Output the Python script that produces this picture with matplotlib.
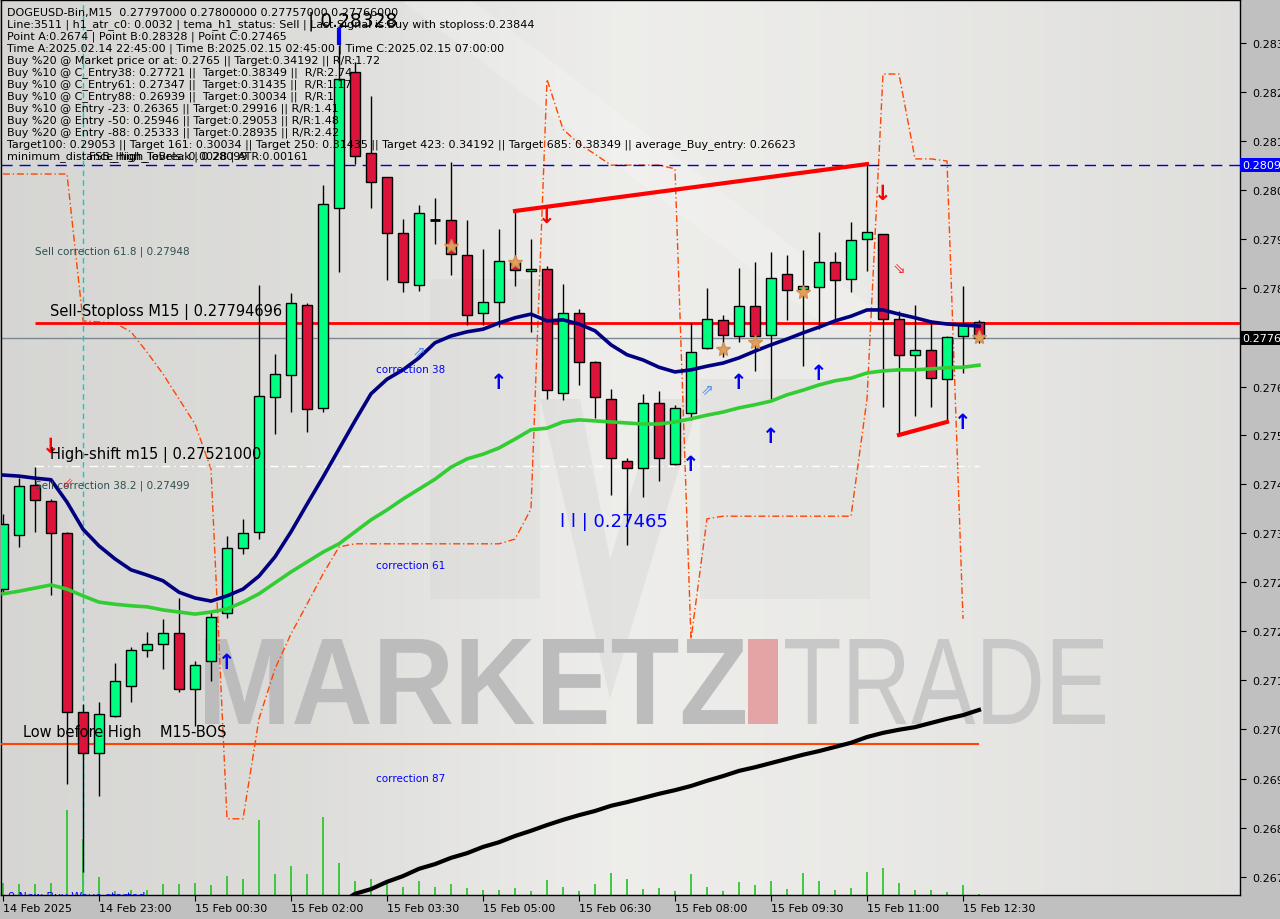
import matplotlib
matplotlib.use("Agg")
import matplotlib.pyplot as plt
import numpy as np
from matplotlib.patches import Rectangle, PathPatch
from matplotlib.textpath import TextPath
from matplotlib.font_manager import FontProperties
from matplotlib.transforms import Affine2D

# DOGEUSD-Bin M15, first bar 14 Feb 21:30
opens = [0.27284, 0.27388, 0.27484, 0.27453, 0.27392, 0.27048, 0.26969, 0.27040, 0.27098, 0.27167,
         0.27179, 0.27200, 0.27092, 0.27146, 0.27238, 0.27363, 0.27394, 0.27653, 0.27695, 0.27830,
         0.27632, 0.28016, 0.28277, 0.28121, 0.28075, 0.27968, 0.27868, 0.27993, 0.27993, 0.27926,
         0.27814, 0.27835, 0.27914, 0.27895, 0.27899, 0.27661, 0.27814, 0.27720, 0.27649, 0.27530,
         0.27517, 0.27641, 0.27524, 0.27622, 0.27747, 0.27801, 0.27770, 0.27828, 0.27772, 0.27889,
         0.27860, 0.27864, 0.27912, 0.27879, 0.27956, 0.27966, 0.27803, 0.27734, 0.27743, 0.27687,
         0.27770, 0.27797]
highs = [0.27428, 0.27497, 0.27518, 0.27457, 0.27394, 0.27063, 0.27067, 0.27142, 0.27173, 0.27202,
         0.27227, 0.27267, 0.27146, 0.27240, 0.27386, 0.27419, 0.27868, 0.27735, 0.27853, 0.27833,
         0.28060, 0.28328, 0.28296, 0.28231, 0.28075, 0.27995, 0.28022, 0.28035, 0.28104, 0.27993,
         0.27937, 0.27975, 0.28010, 0.27956, 0.27904, 0.27870, 0.27822, 0.27722, 0.27668, 0.27536,
         0.27659, 0.27664, 0.27638, 0.27795, 0.27862, 0.27810, 0.27901, 0.27912, 0.27931, 0.27926,
         0.27935, 0.27970, 0.27931, 0.27989, 0.28100, 0.27966, 0.27818, 0.27830, 0.27797, 0.27770,
         0.27866, 0.27800]
lows = [0.27275, 0.27365, 0.27394, 0.27273, 0.26910, 0.26741, 0.26887, 0.27038, 0.27067, 0.27154,
        0.27131, 0.27086, 0.27021, 0.27108, 0.27229, 0.27351, 0.27380, 0.27582, 0.27624, 0.27586,
        0.27624, 0.27893, 0.28100, 0.28016, 0.27878, 0.27854, 0.27856, 0.27947, 0.27887, 0.27791,
        0.27791, 0.27787, 0.27866, 0.27778, 0.27649, 0.27647, 0.27676, 0.27613, 0.27465, 0.27369,
        0.27461, 0.27492, 0.27522, 0.27609, 0.27745, 0.27730, 0.27758, 0.27703, 0.27649, 0.27801,
        0.27712, 0.27783, 0.27803, 0.27854, 0.27895, 0.27634, 0.27580, 0.27616, 0.27634, 0.27605,
        0.27699, 0.27757]
closes = [0.27409, 0.27482, 0.27455, 0.27392, 0.27048, 0.26969, 0.27044, 0.27108, 0.27167, 0.27179,
          0.27200, 0.27092, 0.27138, 0.27230, 0.27363, 0.27392, 0.27655, 0.27697, 0.27833, 0.27630,
          0.28023, 0.28263, 0.28116, 0.28066, 0.27968, 0.27874, 0.28006, 0.27993, 0.27927, 0.27810,
          0.27835, 0.27914, 0.27897, 0.27899, 0.27666, 0.27814, 0.27720, 0.27653, 0.27536, 0.27517,
          0.27641, 0.27536, 0.27632, 0.27739, 0.27803, 0.27772, 0.27828, 0.27770, 0.27881, 0.27858,
          0.27866, 0.27912, 0.27878, 0.27954, 0.27970, 0.27803, 0.27734, 0.27743, 0.27689, 0.27768,
          0.27791, 0.27766]
volumes = [120, 110, 110, 120, 850, 560, 180, 40, 50, 50,
           110, 110, 120, 100, 190, 160, 750, 210, 290, 210,
           780, 320, 140, 160, 150, 80, 140, 80, 110, 70,
           50, 50, 70, 40, 150, 80, 40, 110, 220, 160,
           60, 70, 40, 210, 80, 40, 130, 100, 140, 60,
           220, 140, 50, 70, 230, 270, 120, 50, 50, 30,
           100, 10]

ma_navy = [0.27503, 0.27501, 0.27497, 0.27494, 0.27451, 0.27399, 0.27367, 0.27342, 0.27321, 0.27311,
           0.27300, 0.27278, 0.27267, 0.27261, 0.27271, 0.27284, 0.27309, 0.27346, 0.27394, 0.27447,
           0.27499, 0.27553, 0.27607, 0.27659, 0.27687, 0.27705, 0.27728, 0.27757, 0.27770, 0.27778,
           0.27783, 0.27795, 0.27805, 0.27812, 0.27799, 0.27801, 0.27793, 0.27780, 0.27753, 0.27734,
           0.27724, 0.27710, 0.27701, 0.27705, 0.27712, 0.27718, 0.27728, 0.27741, 0.27753, 0.27764,
           0.27776, 0.27787, 0.27799, 0.27808, 0.27820, 0.27820, 0.27812, 0.27805, 0.27797, 0.27793,
           0.27791, 0.27789]
ma_green = [0.27275, 0.27280, 0.27286, 0.27292, 0.27284, 0.27271, 0.27259, 0.27255, 0.27252, 0.27250,
            0.27244, 0.27240, 0.27236, 0.27240, 0.27246, 0.27259, 0.27275, 0.27296, 0.27317, 0.27336,
            0.27355, 0.27371, 0.27394, 0.27417, 0.27436, 0.27457, 0.27476, 0.27495, 0.27518, 0.27534,
            0.27543, 0.27555, 0.27572, 0.27590, 0.27593, 0.27605, 0.27609, 0.27607, 0.27605, 0.27603,
            0.27601, 0.27601, 0.27605, 0.27611, 0.27618, 0.27624, 0.27632, 0.27638, 0.27645, 0.27657,
            0.27666, 0.27676, 0.27684, 0.27689, 0.27699, 0.27703, 0.27705, 0.27705, 0.27707, 0.27709,
            0.27710, 0.27714]
# long average starts on bar 21
ma_black = [0.26679, 0.26699, 0.26708, 0.26722, 0.26733, 0.26747, 0.26756, 0.26768, 0.26777, 0.26789,
            0.26798, 0.26810, 0.26820, 0.26831, 0.26841, 0.26850, 0.26858, 0.26868, 0.26875, 0.26883,
            0.26891, 0.26898, 0.26906, 0.26916, 0.26925, 0.26935, 0.26942, 0.26950, 0.26958, 0.26966,
            0.26973, 0.26981, 0.26989, 0.27000, 0.27008, 0.27014, 0.27019, 0.27027, 0.27035, 0.27042,
            0.27052]
# orange dash-dot channel, bars 0..60
channel = [0.28081, 0.28081, 0.28081, 0.28081, 0.28081, 0.27799, 0.27797, 0.27795, 0.27778, 0.27739,
           0.27697, 0.27649, 0.27601, 0.27515, 0.26843, 0.26843, 0.27035, 0.27131, 0.27198, 0.27255,
           0.27313, 0.27365, 0.27371, 0.27371, 0.27371, 0.27371, 0.27371, 0.27371, 0.27371, 0.27371,
           0.27371, 0.27371, 0.27380, 0.27438, 0.28263, 0.28167, 0.28139, 0.28119, 0.28098, 0.28098,
           0.28098, 0.28098, 0.28091, 0.27188, 0.27419, 0.27424, 0.27424, 0.27424, 0.27424, 0.27424,
           0.27424, 0.27424, 0.27424, 0.27424, 0.27649, 0.28273, 0.28273, 0.28110, 0.28110, 0.28106,
           0.27227]

time_labels = ["14 Feb 2025", "14 Feb 23:00", "15 Feb 00:30", "15 Feb 02:00", "15 Feb 03:30",
               "15 Feb 05:00", "15 Feb 06:30", "15 Feb 08:00", "15 Feb 09:30", "15 Feb 11:00",
               "15 Feb 12:30"]
price_ticks = [0.28333, 0.28238, 0.28144, 0.28050, 0.27956, 0.27862, 0.27768, 0.27673, 0.27579,
               0.27485, 0.27391, 0.27297, 0.27203, 0.27109, 0.27015, 0.26920, 0.26826, 0.26732]

last_price = 0.27766
sell_stop = 0.27794696
fsb_high = 0.28099
high_shift = 0.27521
low_before_high = 0.26987
point_b = 0.28328
point_c = 0.27465

buy_arrows = [(14, 0.27144), (31, 0.27682), (43, 0.27524), (46, 0.27682), (48, 0.27578),
              (51, 0.27699), (60, 0.27605)]
sell_arrows = [(3, 0.27559), (34, 0.28000), (55, 0.28045)]
stars = [(28, 0.27943), (32, 0.27912), (45, 0.27745), (47, 0.27758), (50, 0.27854), (61, 0.27768)]

info_lines = [
    "DOGEUSD-Bin,M15  0.27797000 0.27800000 0.27757000 0.27766000",
    "Line:3511 | h1_atr_c0: 0.0032 | tema_h1_status: Sell | Last Signal is:Buy with stoploss:0.23844",
    "Point A:0.2674 | Point B:0.28328 | Point C:0.27465",
    "Time A:2025.02.14 22:45:00 | Time B:2025.02.15 02:45:00 | Time C:2025.02.15 07:00:00",
    "Buy %20 @ Market price or at: 0.2765 || Target:0.34192 || R/R:1.72",
    "Buy %10 @ C_Entry38: 0.27721 ||  Target:0.38349 ||  R/R:2.74",
    "Buy %10 @ C_Entry61: 0.27347 ||  Target:0.31435 ||  R/R:1.17",
    "Buy %10 @ C_Entry88: 0.26939 ||  Target:0.30034 ||  R/R:1",
    "Buy %10 @ Entry -23: 0.26365 || Target:0.29916 || R/R:1.41",
    "Buy %20 @ Entry -50: 0.25946 || Target:0.29053 || R/R:1.48",
    "Buy %20 @ Entry -88: 0.25333 || Target:0.28935 || R/R:2.42",
    "Target100: 0.29053 || Target 161: 0.30034 || Target 250: 0.31435 || Target 423: 0.34192 || Target 685: 0.38349 || average_Buy_entry: 0.26623",
    "minimum_distance_high_levels: 0.0028 | ATR:0.00161",
]

plt.rcParams['font.family'] = ['DejaVu Sans']

W, H = 1280, 920
fig = plt.figure(figsize=(W / 100, H / 100), dpi=100)
fig.patch.set_facecolor('#c0c0c0')
ax = fig.add_axes([1 / W, 24 / H, 1239 / W, 895 / H])

n = len(opens)
xs = np.arange(n)
x0, x1 = -0.125, 77.3125
y0, y1 = 0.266967, 0.284151

# pixel helper (image coordinates, y down)
PIX = Affine2D().scale(1 / W, -1 / H).translate(0, 1) + fig.transFigure

# background gradient
gx = np.linspace(0, 1240, 300)
g = np.interp(gx, [0, 300, 620, 850, 1240], [214, 221, 238, 234, 223])
bg = np.stack([g, g - 0.5, g - 3], axis=-1)[None, :, :] / 255.0
ax.imshow(bg, extent=[x0, x1, y0, y1], aspect='auto', zorder=0, interpolation='bilinear')

# faint logo shapes
def px_poly(pts, **kw):
    p = plt.Polygon(pts, closed=True, transform=PIX, **kw)
    ax.add_patch(p)
    p.set_clip_path(ax.patch)

px_poly([(430, 280), (540, 280), (540, 600), (430, 600)], facecolor='#d2d2d2', alpha=0.3, zorder=0.5, lw=0)
px_poly([(700, 380), (870, 380), (870, 600), (700, 600)], facecolor='#d2d2d2', alpha=0.3, zorder=0.5, lw=0)
px_poly([(540, 400), (610, 700), (700, 400), (660, 400), (610, 560), (580, 400)], facecolor='#d2d2d2', alpha=0.4, zorder=0.5, lw=0)
px_poly([(400, 0), (470, 0), (900, 330), (830, 330)], facecolor='#ffffff', alpha=0.2, zorder=0.5, lw=0)

# watermark text
def word(s, box, color, weight):
    tp = TextPath((0, 0), s, size=1, prop=FontProperties(family='Liberation Sans', weight=weight))
    bb = tp.get_extents()
    l, t, r, b = box
    tr = Affine2D().translate(-bb.x0, -bb.y0).scale((r - l) / bb.width, -(b - t) / bb.height).translate(l, b) + PIX
    patch = PathPatch(tp, facecolor=color, edgecolor='none', transform=tr, zorder=1)
    ax.add_patch(patch)

word("MARKETZ", (205, 640, 745, 725), '#bcbcbc', 'bold')
ax.add_patch(Rectangle((748, 640), 30, 85, transform=PIX, facecolor='#e2a4a4', edgecolor='none', zorder=1))
word("TRADE", (785, 640, 1105, 725), '#c8c8c8', 'normal')

# volumes
vol_scale = 0.00000192
ax.vlines(xs, y0, [y0 + v * vol_scale for v in volumes], color='#22c322', lw=1.2, zorder=2)

# channel
ax.plot(xs[:len(channel)], channel, color='#ff4500', lw=1, ls=(0, (5, 2, 1, 2)), zorder=2)

# level lines
ax.axhline(fsb_high, color='#0000cd', lw=1, ls=(0, (8, 5)), zorder=2)
ax.axhline(last_price, color='#7a8896', lw=1, zorder=2)
ax.hlines(sell_stop, 2, x1, color='#ff0000', lw=2, zorder=3)
ax.hlines(high_shift, 2, 61, color='#ffffff', lw=1, ls=(0, (6, 3, 1, 3)), zorder=2)
ax.hlines(low_before_high, x0, 61, color='#ff4500', lw=1.5, zorder=3)
ax.axvline(5, color='#00ced1', lw=1, ls=(0, (4, 3)), zorder=2)

# candles
for i in range(n):
    o, h, l, c = opens[i], highs[i], lows[i], closes[i]
    ax.vlines(i, l, h, color='black', lw=1, zorder=4)
    if abs(c - o) < 0.000005:
        ax.hlines(o, i - 0.32, i + 0.32, color='black', lw=2, zorder=5)
    else:
        col = '#00ff80' if c > o else '#dc143c'
        ax.add_patch(Rectangle((i - 0.32, min(o, c)), 0.64, abs(c - o), facecolor=col,
                               edgecolor='black', lw=1, zorder=5))

# moving averages
ax.plot(xs, ma_green, color='#32cd32', lw=2.6, zorder=6)
ax.plot(xs, ma_navy, color='#000080', lw=2.6, zorder=6)
ax.plot(xs[21:], ma_black, color='black', lw=3, zorder=6)

# trend lines
ax.plot([32, 54], [highs[32], highs[54]], color='#ff0000', lw=3, zorder=6)
ax.plot([56, 59], [lows[56], lows[59]], color='#ff0000', lw=3, zorder=6)
ax.vlines(21, point_b, point_b + 0.00034, color='#0000ff', lw=3, zorder=6)

# signals
for i, p in buy_arrows:
    ax.text(i, p, "↑", color='#0000ff', fontsize=15, fontweight='bold', ha='center', va='center', zorder=7)
for i, p in sell_arrows:
    ax.text(i, p, "↓", color='#ff0000', fontsize=15, fontweight='bold', ha='center', va='center', zorder=7)
for i, p in stars:
    ax.plot(i, p, marker='*', ms=10, color='#e0a060', mec='#d09050', zorder=7)
ax.text(26, 0.27741, "⇗", color='#4f8fef', fontsize=11, ha='center', va='center', zorder=7)
ax.text(44, 0.27668, "⇗", color='#4f8fef', fontsize=11, ha='center', va='center', zorder=7)
ax.text(56, 0.27902, "⇘", color='#ff3030', fontsize=11, ha='center', va='center', zorder=7)
ax.text(4, 0.27490, "⇙", color='#ff3030', fontsize=10, ha='center', va='center', zorder=7)

# chart labels
def ptext(x, y, s, **kw):
    kw.setdefault('va', 'center')
    kw.setdefault('zorder', 8)
    ax.text(x, y, s, transform=PIX, **kw)

for k, line in enumerate(info_lines):
    ptext(7, 13 + 12 * k, line, fontsize=8, color='black')
ptext(89, 157, "FSB_High_ToBreak | 0.28099", fontsize=8, color='black')
ptext(308, 21, "| 0.28328", fontsize=13.5, color='black')
ptext(35, 252, "Sell correction 61.8 | 0.27948", fontsize=7.5, color='#2f4f4f')
ptext(50, 312, "Sell-Stoploss M15 | 0.27794696", fontsize=10.5, color='black')
ptext(376, 370, "correction 38", fontsize=7.5, color='#0000ff')
ptext(50, 455, "High-shift m15 | 0.27521000", fontsize=10.5, color='black')
ptext(35, 486, "Sell correction 38.2 | 0.27499", fontsize=7.5, color='#2f4f4f')
ptext(560, 522, "l l | 0.27465", fontsize=13, color='#0000ff')
ptext(376, 566, "correction 61", fontsize=7.5, color='#0000ff')
ptext(23, 733, "Low before High    M15-BOS", fontsize=10.5, color='black')
ptext(376, 779, "correction 87", fontsize=7.5, color='#0000ff')
ax.text(8, 892, "0 New Buy Wave started", transform=PIX, fontsize=8, color='#0000ff',
        va='top', clip_on=True, zorder=8)

# axes
ax.set_xlim(x0, x1)
ax.set_ylim(y0, y1)
ax.set_xticks(np.arange(0, 61, 6))
ax.set_xticklabels(time_labels, fontsize=8)
for lab in ax.get_xticklabels():
    lab.set_ha('left')
ax.yaxis.tick_right()
ax.set_yticks(price_ticks)
# the tick under the last-price tag carries no label of its own
ax.set_yticklabels(["" if abs(v - last_price) < 0.0002 else f"{v:.5f}" for v in price_ticks], fontsize=8)
ax.tick_params(axis='x', length=4, pad=2, direction='out')
ax.tick_params(axis='y', length=4, pad=5, direction='out')
for s in ax.spines.values():
    s.set_color('black')
    s.set_linewidth(1)

# price tags on the scale
yt = ax.get_yaxis_transform()
ax.text(1.002, fsb_high, "0.28099", transform=yt, color='white', fontsize=8, va='center', ha='left',
        bbox=dict(facecolor='#0000ff', edgecolor='none', pad=1.5), clip_on=False, zorder=9)
ax.text(1.002, last_price, "0.27766", transform=yt, color='white', fontsize=8, va='center', ha='left',
        bbox=dict(facecolor='black', edgecolor='none', pad=1.5), clip_on=False, zorder=9)

fig.savefig("out.png", dpi=100)
